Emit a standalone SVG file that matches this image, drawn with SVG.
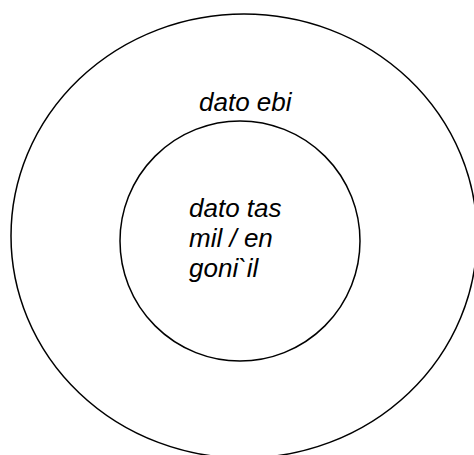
<svg xmlns="http://www.w3.org/2000/svg" width="474" height="455" viewBox="0 0 474 455">
<style>
.shape{fill:none;stroke:#000;stroke-width:1.5}
.lbl{font-family:"Liberation Sans",Arial,sans-serif;font-style:italic;font-size:26px;fill:#000}
</style>
<rect width="474" height="455" fill="#fff"/>
<g id="outer">
<ellipse class="shape" cx="244" cy="236" rx="233" ry="222"/>
<text class="lbl" x="199" y="111">dato ebi</text>
</g>
<g id="inner">
<circle class="shape" cx="240" cy="241" r="120"/>
<text class="lbl" x="189" y="217">dato tas</text>
<text class="lbl" x="189" y="247">mil / en</text>
<text class="lbl" x="189" y="277">goni`il</text>
</g>
<g id="connectors"></g>
</svg>
